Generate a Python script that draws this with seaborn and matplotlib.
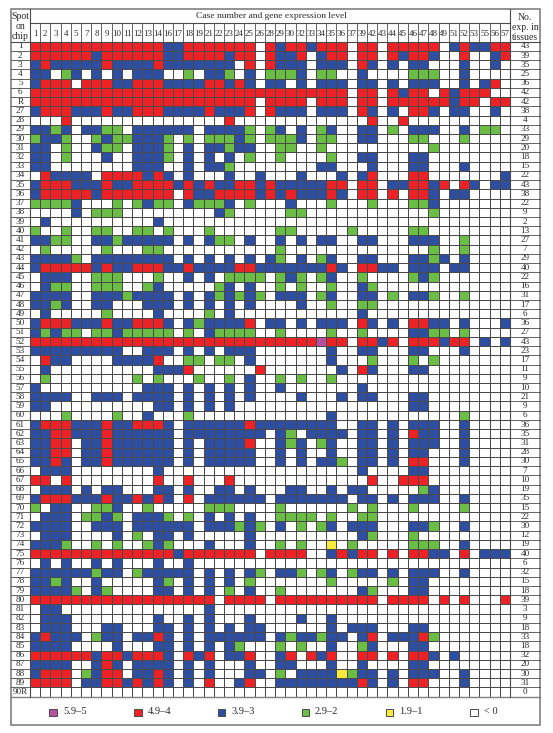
import numpy as np
import seaborn as sns
import matplotlib.pyplot as plt
from matplotlib.colors import ListedColormap
from matplotlib.lines import Line2D
from matplotlib.patches import Rectangle

case_labels = ["1", "2", "3", "4", "5", "7", "8", "9", "10", "11", "12", "13", "14", "16", "17", "18",
               "19", "21", "22", "23", "24", "25", "26", "28", "29", "30", "32", "33", "34", "35", "36",
               "37", "39", "42", "43", "44", "45", "46", "47", "48", "49", "51", "52", "53", "55", "56", "57"]
spot_labels = ["1", "2", "3", "4", "5", "6", "R"] + [str(n) for n in range(27, 90)] + ["90R"]
tissue_counts = [43, 39, 35, 25, 36, 42, 42, 38, 4, 33, 29, 20, 18, 15, 22, 43, 38, 22, 9, 2, 13, 27, 7, 29,
                 40, 22, 16, 31, 17, 6, 36, 27, 43, 23, 17, 11, 9, 10, 21, 9, 6, 36, 35, 31, 28, 30, 7, 10,
                 19, 35, 15, 22, 30, 12, 19, 40, 6, 32, 15, 18, 39, 3, 9, 18, 33, 18, 32, 20, 30, 31, 0]

# expression class per cell: p 5.9-5, r 4.9-4, b 3.9-3, g 2.9-2, y 1.9-1, . below 0
# cases 1 to 28
cells_left = [
    "rrrrrrrrrrrrrbbrrrrrrr.r", "rrrrrrbrrrrrrbbrrrrbrr.r", "brbbbbbrbbbbrbbbbbbb.r.r", "bb.gb.b.b.bbb..g.bbg.b.g",
    "brrr.rrrbbrrrbbbbrrbrb.b", "rrrrrrrrrrrrrrrrrrrrrrrr", "rrrrrrrrrrrrrrrrrrrrrr.r", "brrrbbbrbbrrrbbbbrbbbr.r",
    "...r...............r....", "bbgb.bbgg.bbbbbb.bbbbg.g", "gbbg..gbggbbbg.g.gggbg.g", "bb.g..bgg.bbbg.b.bbgbb..",
    "bb.g...b..bbbg.b.b.b.g..", "bb........bbb..b.bbg....", ".rbbbb.rrrrbrb.b...b..b.", "brrrbbbrbbrrrrbrbrbbrrbr",
    "brrrrrbrrrrrrr.rbbrrrrbr", "ggggb...g.gbgg.bgggb.g..", "....b.ggg.........bg....", ".b..........b...........",
    "g..g..gg..gg.g...g......", "bbgg..bbgbbbbb.b.bgg.b..", ".g.....g...gg...........", "bbbbg.bbbbbbbb.b.b.b.b.b",
    "brrrrrbrbbrrrbbrbbbbrrbb", ".bbb..ggg...g..b.b.gggg.", ".bgg..ggg..gb.....gb.b..", "bbbb..bbbgbbbb.b.bgbgbg.",
    "bbgb..bb...bbb.b.b.b.b..", ".b.....g....b....g.b....", "brrrbbbrbbrrrb.bgbbbbr.b", "bgbgg.ggbggggg.g.bgggg..",
    "rrrrrrrrrrrrrrrrrrrrrrrr", "bbbbbbbbb..bbb.b.b.bbb..", ".rbb....bbbbr..gg.gg.b..", ".b..........bbbr......r.",
    ".g........g.g...g..g.b..", "b..........bbb.b.b.b.b..", "bbbb..bbb.bbbb.b.b.b.b..", "bb..........bb.b.b.b....",
    "...g....g..b...g........", "brrrbbbrbbrrrb.bbbbbbrbb", "bbrrbbbrbbbbbb.bbbbbbbb.", "bbrr.bbrbbbbbb.b.bbbbr..",
    "bbrr.bbrbbbbbb.b.bbbbb..", "bbrb.bbrbbbbbb.b.bbbbb..", ".bbb........b...........", "rr.r........r..r...r....",
    ".bbb.b.bb...bb.b..bb.b..", "brrrbbbrbbrbrb.r.bbbbbb.", "g.bb..ggb..g.....ggg....", ".bbb.ggbg.bbbg.g.b.b.b..",
    "bbbb..bbb.bbbbbb.bbbgbg.", ".bbb....b.g.bb.b.....b..", "bbbg..g.g..gbg...b...b..", "rrrrrrrrrrrrrrbrrrrrrr.r",
    ".b.b..b.b...b..b........", "bbbbbbgbb.gbbbbb.b.b.bg.", "bbgb..b.....bg.b.b.b.g..", "bbbbg.bg....bb.b.b.g.b..",
    "rrrrrrrrrrrrrrrrrr.rrrr.", ".bb..............b......", ".bbb........b..b.b...b..", ".bbb...bb...bb.b.b.b.bb.",
    "brbbb.gbb.bbrb.b.bbbbbb.", "bbbb....b...bb.b.b.bg...", "rrrrrrbrrbrrrb.rbr.bbr..", "bbbb..brb.bbbb.b.b...b..",
    "brrr.gbrr.bbrb.b.b...bb.", "rrrr.bbrrbrbrb.b.r..br..", "........................",
]
# cases 29 to 57
cells_right = [
    "brrbrrr.rr.rrrrr.brbbrr", "bbr.brr.rr.rbrrb..r..br", "bbb.bbb.rb.b.bb...b..b.", "ggb.gg..b....ggg..b....",
    "b.b.bbb.bb.b.bbb..b.br.", "rrrrrrr.rr.rbrr.rbrrr..", "rrr.rrr.rr.rrrrrrbrr.rr", "bbb.bbb.rb.b.rrb.bb..b.",
    ".........r..r..........", "b.b.gb..bb.g.bbb..b.gg.", "ggb.gg..bb...gg...g....", "gg..g..........g.......",
    "g....g..bb...bb........", "....bb...b...bb...b....", "..b...b.br...rr.......b", "bbbbbrr.rr.bbrrbr.rb.bb",
    "brbbbrb.rr.r.rrb.bb....", ".b...g...g...ggb.......", ".gg............g.......", ".......................",
    "gg.....g.....gg........", "b.b.bb..bb...bbb..g....", "g..............g..g....", "g.b.gb..bb...bbgb.b....",
    "bbbbbrb.rrbb.bbb.bb....", "gbg.gb..g....gbg.......", "g.g..g..bg.............", "bbb.gb..bb.g.bbg..g....",
    "..b..g..gg.............", "........b..............", "b.b.bbb.rb.b.rrbb.b...b", "g....g..g....bbgg.g....",
    "rrrrprr.rrbr.rrrbrr.b.b", ".....b..bb...bb...b....", ".....b...g...g.g.......", "......b.rb...bb........",
    "g.g..g.................", "b.......b..............", "..b...b.bb...bb........", ".............bb........",
    ".....b............g....", "bbbbbb..bb.b.bbb..b....", "bg.bbbb.bb.b.rbb..b....", "bgb.gb..bb.b.bbb..b....",
    "b.b..b..bb.b.bb...b....", "b.b.bbg.bb.b.rr...b....", "........b....bb........", ".........r..rrr........",
    ".bb..b.bb.....gb.......", "bbbbbbb.bb.b.bbb..b....", "g......g.g...g....g....", "gggg.g..gg.............",
    "b.g.gb.bbb...bbg..b....", "........bg...g.........", "g.g..y.g.....ggg..b....", "rrr..brbrr.r.rrbb.r.bbb",
    ".......................", "bbg.gb.gbb.b.bbb..b....", ".....g.....g.bb........", "g.......bg...bb........",
    "rrrrrrrrrr.rrrr.r.r...r", ".......................", "..b..b.................", ".....b.bbb...bb........",
    "bgbbgbb.br.bbbrg.......", "g.g..b..gb...bb........", "br.rbr..rr.r.rrb.b.....", "bb...b..b....bb........",
    "g.bbbbygbb.b.bbb..b....", "bbbbbbbbrb.b.rr...b....", ".......................",
]
legend_labels = ["5.9–5", "4.9–4", "3.9–3", "2.9–2", "1.9–1", "< 0"]
legend_codes = "prbgy."

level_of = {".": 0, "y": 1, "g": 2, "b": 3, "r": 4, "p": 5}
level_colors = ["#ffffff", "#f6eb3d", "#6abd45", "#2e4ea1", "#ed2227", "#b5519f"]

W, H = 553, 733
GRID_L, GRID_R, GRID_T, GRID_B = 30, 510, 41.7, 696.7
BOX_L, BOX_R, BOX_T, BOX_B = 11, 540, 9.3, 725
LINE = "#4a4a4a"
EDGE = "#808080"
TEXT = "#2a2a2a"

plt.rcParams["font.family"] = ["Liberation Serif", "DejaVu Serif"]

rows = [a + b for a, b in zip(cells_left, cells_right)]
levels = np.array([[level_of[c] for c in r] for r in rows])

fig = plt.figure(figsize=(W / 100, H / 100), dpi=100)
ax = fig.add_axes([GRID_L / W, 1 - GRID_B / H, (GRID_R - GRID_L) / W, (GRID_B - GRID_T) / H])

sns.heatmap(levels, ax=ax, cmap=ListedColormap(level_colors), vmin=-0.5, vmax=5.5, cbar=False,
            linewidths=0.6, linecolor=LINE, xticklabels=case_labels, yticklabels=spot_labels)

ax.xaxis.tick_top()
ax.tick_params(axis="x", length=0, pad=3, labelsize=6.5, labelcolor=TEXT, labelrotation=0)
ax.tick_params(axis="y", length=0, pad=7, labelsize=6.6, labelcolor=TEXT, labelrotation=0)
for lab in ax.get_yticklabels():
    lab.set_ha("center")


def fx(x):
    return x / W


def fy(y):
    return 1 - y / H


def rule(x0, y0, x1, y1, color=LINE, lw=0.8):
    fig.add_artist(Line2D([fx(x0), fx(x1)], [fy(y0), fy(y1)], color=color, lw=lw))


# side columns carry the row lines on, header carries the column lines up
cell_h = (GRID_B - GRID_T) / len(rows)
cell_w = (GRID_R - GRID_L) / len(case_labels)
for i in range(1, len(rows)):
    y = GRID_T + i * cell_h
    rule(BOX_L, y, GRID_L, y, lw=0.6)
    rule(GRID_R, y, BOX_R, y, lw=0.6)
for j in range(1, len(case_labels)):
    x = GRID_L + j * cell_w
    rule(x, 23, x, GRID_T, lw=0.6)

rule(GRID_L, 23, GRID_R, 23)
rule(BOX_L, GRID_T, BOX_R, GRID_T)
rule(BOX_L, GRID_B, BOX_R, GRID_B, color=EDGE, lw=1.0)
rule(GRID_L, BOX_T, GRID_L, GRID_B)
rule(GRID_R, BOX_T, GRID_R, GRID_B)
fig.add_artist(Rectangle((fx(BOX_L), fy(BOX_B)), (BOX_R - BOX_L) / W, (BOX_B - BOX_T) / H, fill=False,
                         edgecolor=EDGE, lw=1.2, transform=fig.transFigure))

# number of expressing tissues, right column
for i, n in enumerate(tissue_counts):
    fig.text(fx((GRID_R + BOX_R) / 2), fy(GRID_T + (i + 0.5) * cell_h), str(n), fontsize=6.6, color=TEXT,
             ha="center", va="center")

fig.text(fx(271), fy(16.3), "Case number and gene expression level", fontsize=6.8, color=TEXT, ha="center", va="center")
for txt, y in zip(["Spot", "on", "chip"], [16.7, 26.8, 36.2]):
    fig.text(fx(20.3), fy(y), txt, fontsize=7, color=TEXT, ha="center", va="center")
for txt, y in zip(["No.", "exp. in", "tissues"], [17, 27, 37.2]):
    fig.text(fx(525), fy(y), txt, fontsize=7, color=TEXT, ha="center", va="center")

# legend strip
legend_x = [49.5, 134, 217.5, 301.5, 385.5, 470]
for x, code, label in zip(legend_x, legend_codes, legend_labels):
    fig.add_artist(Rectangle((fx(x), fy(716)), 7.5 / W, 7.5 / H, facecolor=level_colors[level_of[code]],
                             edgecolor=LINE, lw=0.7, transform=fig.transFigure))
    fig.text(fx(x + 13.5), fy(712), label, fontsize=7.5, color=TEXT, ha="left", va="center")

fig.savefig("out.png", dpi=100)
